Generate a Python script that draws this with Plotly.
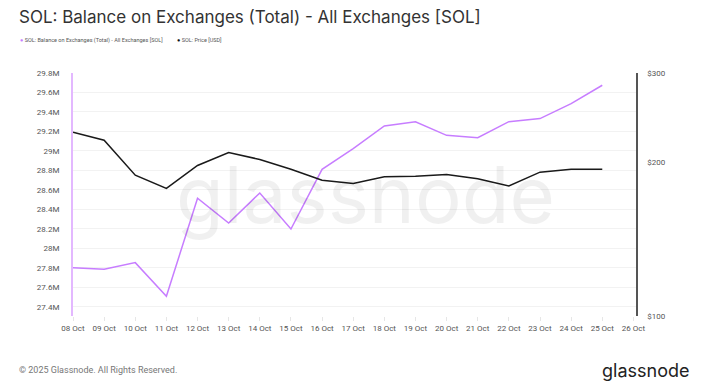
import plotly.graph_objects as go

dates = ["2025-10-%02d" % d for d in range(8, 26)]
balance_m = [27.80, 27.785, 27.853, 27.507, 28.514, 28.26, 28.568, 28.198, 28.811,
             29.024, 29.256, 29.30, 29.16, 29.136, 29.30, 29.332, 29.486, 29.674]
price_usd = [229.5, 221.3, 189.0, 178.0, 197.5, 209.4, 202.9, 194.2, 184.8,
             182.0, 187.6, 188.2, 189.6, 185.9, 180.1, 191.6, 194.2, 194.2]
left_ticks = [27.4, 27.6, 27.8, 28.0, 28.2, 28.4, 28.6, 28.8, 29.0, 29.2, 29.4, 29.6, 29.8]
left_labels = ["27.4M", "27.6M", "27.8M", "28M", "28.2M", "28.4M", "28.6M", "28.8M",
               "29M", "29.2M", "29.4M", "29.6M", "29.8M"]
right_ticks = [100, 200, 300]
right_labels = ["$100", "$200", "$300"]
tick_dates = ["2025-10-%02d" % d for d in range(8, 27)]

PURPLE = "#c77dff"
fig = go.Figure()
fig.add_trace(go.Scatter(x=dates, y=[v * 1e6 for v in balance_m], mode="lines",
                         name="SOL: Balance on Exchanges (Total) - All Exchanges [SOL]",
                         line=dict(color=PURPLE, width=1.5), yaxis="y"))
fig.add_trace(go.Scatter(x=dates, y=price_usd, mode="lines", name="SOL: Price [USD]",
                         line=dict(color="#1a1a1a", width=1.5), yaxis="y2"))

W, H = 709, 384
L, R, T, B = 73, 73, 73, 68
PW, PH = W - L - R, H - T - B

def px(x):
    return (x - L) / PW

def py(y):
    return (H - B - y) / PH

fig.update_layout(
    width=W, height=H,
    margin=dict(l=L, r=R, t=T, b=B),
    paper_bgcolor="white", plot_bgcolor="white",
    font=dict(family="Roboto", color="#555"),
    showlegend=False,
    xaxis=dict(type="date", range=["2025-10-08", "2025-10-26 02:00"],
               tickvals=tick_dates, tickformat="%d %b", tickfont=dict(size=8, color="#555"),
               ticks="outside", ticklen=4, tickcolor="#e6e6e6", showgrid=False,
               showline=False, zeroline=False),
    yaxis=dict(range=[27.305e6, 29.8e6], tickvals=[t * 1e6 for t in left_ticks],
               ticktext=left_labels, tickfont=dict(size=8, color="#555"),
               showgrid=True, gridcolor="#f2f2f2", gridwidth=1,
               showline=True, linecolor="#e3b8ff", linewidth=2, zeroline=False,
               ticks="", ticklabelstandoff=10),
    yaxis2=dict(type="log", range=[2, 2.4771], overlaying="y", side="right",
                tickvals=right_ticks, ticktext=right_labels,
                tickfont=dict(size=8, color="#555"), showgrid=False,
                showline=True, linecolor="#555", linewidth=1.5, zeroline=False,
                ticks="", ticklabelstandoff=8),
)

fig.add_annotation(text="glassnode", x=0.52, y=0.5, xref="paper", yref="paper", showarrow=False,
                   font=dict(family="Inter", size=78, color="rgba(0,0,0,0.06)"))
fig.add_annotation(text="SOL: Balance on Exchanges (Total) - All Exchanges [SOL]",
                   xref="paper", yref="paper", x=px(17), y=py(17),
                   xanchor="left", yanchor="middle", showarrow=False,
                   font=dict(family="Inter", size=17, color="#333"))
fig.add_annotation(text="<span style='color:%s'>●</span> SOL: Balance on Exchanges (Total) - All Exchanges [SOL]" % PURPLE,
                   xref="paper", yref="paper", x=px(18), y=py(40),
                   xanchor="left", yanchor="middle", showarrow=False,
                   font=dict(family="Roboto", size=5.5, color="#555"))
fig.add_annotation(text="<span style='color:#111'>●</span> SOL: Price [USD]",
                   xref="paper", yref="paper", x=px(175), y=py(40),
                   xanchor="left", yanchor="middle", showarrow=False,
                   font=dict(family="Roboto", size=5.5, color="#555"))
fig.add_annotation(text="© 2025 Glassnode. All Rights Reserved.",
                   xref="paper", yref="paper", x=px(17), y=py(370),
                   xanchor="left", yanchor="middle", showarrow=False,
                   font=dict(family="Roboto", size=9, color="#777"))
fig.add_annotation(text="glassnode",
                   xref="paper", yref="paper", x=px(691), y=py(370),
                   xanchor="right", yanchor="middle", showarrow=False,
                   font=dict(family="Inter", size=18, color="#222"))

fig.write_html("out.html", config={"displayModeBar": False},
               post_script="document.body.style.margin='0';document.body.style.overflow='hidden';")
